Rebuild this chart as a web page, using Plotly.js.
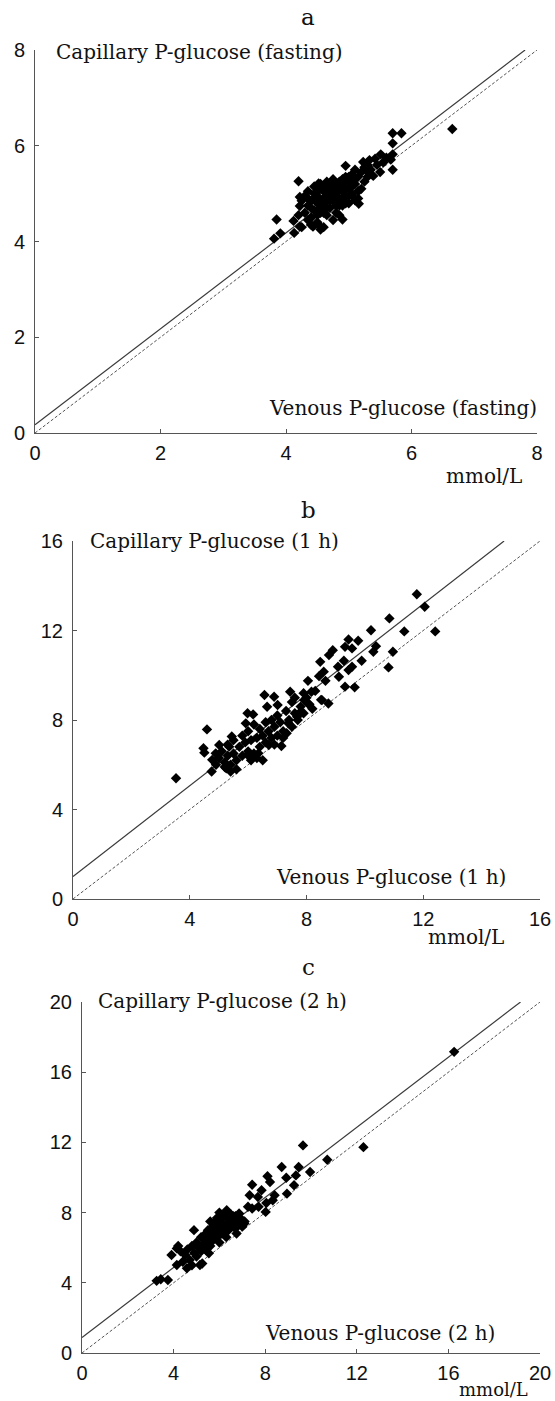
<!DOCTYPE html>
<html>
<head>
<meta charset="utf-8">
<script src="https://cdn.plot.ly/plotly-3.0.1.min.js"></script>
<style>
  html, body { margin: 0; padding: 0; background: #fff; }
  #chart { width: 555px; height: 1401px; }
</style>
</head>
<body>
<div id="chart"></div>
<script>
// ---------- Panel a (fasting) ----------
const aVenous = [6.65,5.70,5.84,5.70,5.70,5.67,5.70,5.51,5.42,5.33,5.39,4.95,4.20,3.85,3.81,3.91,4.90,4.54,4.43,4.12,4.13,4.22,4.22,4.22,4.52,5.10,5.16,5.05,5.23,
  4.25,4.30,4.30,4.35,4.35,4.40,4.40,4.45,4.45,4.45,4.50,4.50,4.50,4.55,4.55,4.55,4.60,4.60,4.60,4.65,4.65,4.65,4.65,4.70,4.70,4.70,4.75,4.75,4.75,4.80,4.80,4.80,4.85,4.85,4.90,4.90,4.90,4.95,4.95,5.00,5.00,5.05,5.05,5.10,5.10,5.15,5.20,5.20,5.25,5.30,5.30,5.35,4.40,4.60,4.55,4.75,4.85,4.35,4.20,4.25,5.00,5.15,5.45,5.55,5.60,5.50,
  4.45,4.50,4.55,4.60,4.65,4.70,4.70,4.75,4.75,4.80,4.80,4.85,4.85,4.90,4.95,4.95,5.00,5.00,5.05,5.10,4.55,4.60,4.50,4.40,4.35,4.65,4.90,5.15,5.25,5.30];
const aCapillary = [6.35,6.26,6.26,6.05,5.82,5.71,5.50,5.82,5.73,5.70,5.37,5.58,5.26,4.46,4.06,4.17,4.46,4.32,4.31,4.43,4.18,4.31,4.74,4.93,5.21,4.86,4.79,4.97,5.66,
  4.85,4.60,4.95,4.75,5.05,4.50,4.85,4.65,5.00,5.15,4.40,4.80,4.95,4.60,5.10,5.20,4.75,4.90,5.05,4.55,4.85,5.00,5.25,4.70,4.95,5.10,4.85,5.20,5.30,4.60,5.00,5.15,4.90,5.25,4.75,5.05,5.20,4.95,5.35,5.10,5.25,5.40,5.00,5.20,5.50,5.35,5.45,5.10,5.55,5.35,5.60,5.50,4.35,4.30,4.25,4.45,4.55,4.45,4.55,4.30,4.80,4.90,5.60,5.65,5.75,5.45,
  4.90,5.05,4.70,5.15,4.70,4.85,5.20,4.95,5.05,4.75,4.90,5.10,4.75,4.90,5.10,4.80,4.95,5.35,5.15,5.30,4.85,4.60,4.55,4.70,4.90,5.10,5.30,5.05,5.25,5.45];
const aFitX = [0, 7.81];
const aFitY = [0.17, 8.0];
const aIdentity = [0, 8];
const aTicks = [0, 2, 4, 6, 8];

// ---------- Panel b (1 h) ----------
const bVenous = [11.78,12.05,10.84,10.21,11.35,12.41,10.96,10.81,10.38,10.29,9.77,9.44,9.32,9.56,9.89,9.56,9.44,8.90,8.77,9.28,9.08,9.11,9.32,9.65,8.47,8.59,8.65,8.43,8.05,8.53,8.75,8.17,7.92,7.44,6.89,6.56,6.65,7.01,5.98,6.17,4.59,3.53,4.47,4.50,4.75,4.77,5.44,5.35,5.25,5.01,4.89,5.92,7.14,7.32,6.71,6.35,5.98,7.38,7.68,7.80,8.05,
  5.0,5.1,5.2,5.3,5.4,5.5,5.5,5.6,5.7,5.8,5.8,5.9,6.0,6.0,6.1,6.2,6.2,6.3,6.4,6.4,6.5,6.6,6.6,6.7,6.8,6.8,6.9,7.0,7.0,7.1,7.2,7.3,7.4,7.5,7.5,7.6,7.7,7.8,7.9,8.0,8.1,6.3,5.6,5.4,6.9,7.2,6.5,5.3,4.9,5.2,6.1,7.6,7.9,8.3,8.5,8.2];
const bCapillary = [13.62,13.06,12.54,12.01,11.96,11.96,11.05,10.35,11.30,11.05,11.54,11.60,11.27,11.20,10.65,10.38,10.23,11.12,10.90,10.65,10.38,9.93,9.49,9.46,10.60,10.16,9.75,9.96,9.75,8.89,8.74,9.26,8.89,9.26,9.04,9.12,8.59,8.67,8.30,8.25,7.58,5.40,6.74,6.54,5.70,6.22,7.26,6.81,5.84,6.88,6.51,7.85,6.84,7.41,6.88,6.51,6.44,7.85,8.15,8.37,8.74,
  6.3,6.6,6.1,6.9,6.0,6.5,7.1,6.2,6.8,7.3,6.4,7.0,6.6,7.5,7.1,6.5,7.8,7.2,6.8,7.6,7.3,7.9,7.0,7.5,8.0,7.2,7.7,7.3,8.2,7.9,7.5,8.4,8.0,8.8,7.7,8.3,8.0,8.6,8.3,9.0,8.7,6.3,5.8,5.7,6.9,7.2,6.2,6.4,6.0,5.9,6.2,9.0,9.2,9.3,8.9,8.5];
const bFitX = [0, 14.77];
const bFitY = [1.0, 16.0];
const bIdentity = [0, 16];
const bTicks = [0, 4, 8, 12, 16];

// ---------- Panel c (2 h) ----------
const cVenous = [16.25,9.65,12.29,10.71,9.96,9.46,8.72,8.92,9.34,9.26,8.95,8.10,8.21,7.43,7.84,7.32,7.68,8.05,8.41,8.33,8.02,7.25,7.43,7.71,3.26,3.44,3.75,3.91,4.14,4.14,4.58,5.15,4.89,5.54,6.75,7.09,6.86,6.32,
  4.5,4.6,4.7,4.8,4.9,5.0,5.0,5.1,5.2,5.2,5.3,5.4,5.4,5.5,5.5,5.6,5.6,5.7,5.7,5.8,5.8,5.9,5.9,6.0,6.0,6.1,6.1,6.2,6.2,6.3,6.3,6.4,6.4,6.5,6.5,6.6,6.7,6.7,6.8,6.9,7.0,7.1,5.3,4.4,4.3,4.2,6.0,5.6,6.3,4.8,5.25,
  5.8,6.0,6.2,5.9,6.4,6.1,5.7,6.6];
const cCapillary = [17.16,11.83,11.73,11.01,10.31,10.60,10.60,9.99,10.12,9.56,9.08,10.07,9.74,9.59,9.27,8.99,8.89,8.55,8.99,8.70,8.04,8.33,8.23,8.33,4.11,4.20,4.16,5.58,5.96,5.01,4.83,5.01,7.00,5.68,6.81,7.38,7.95,8.14,
  5.6,5.9,5.3,6.1,5.7,6.3,5.5,6.0,6.6,5.8,6.2,6.8,5.9,6.4,7.0,6.1,6.7,7.2,6.4,6.9,7.5,6.6,7.7,7.1,6.3,7.4,6.8,7.8,7.0,7.3,6.6,7.6,7.0,7.9,7.3,7.5,7.1,7.8,7.4,7.7,7.2,7.5,6.5,5.2,5.8,6.1,8.0,7.5,8.0,5.0,5.1,
  7.0,7.5,7.3,7.2,7.4,7.0,6.8,7.8];
const cFitX = [0, 19.15];
const cFitY = [0.88, 20.0];
const cIdentity = [0, 20];
const cTicks = [0, 4, 8, 12, 16, 20];

// ---------- texts ----------
const panelLetters = ['a', 'b', 'c'];
const capillaryLabels = ['Capillary P-glucose (fasting)', 'Capillary P-glucose (1 h)', 'Capillary P-glucose (2 h)'];
const venousLabels = ['Venous P-glucose (fasting)', 'Venous P-glucose (1 h)', 'Venous P-glucose (2 h)'];
const unitLabel = 'mmol/L';

// ---------- layout helpers ----------
const W = 555, H = 1401;
const px = v => v / W;
const py = v => 1 - v / H;

const serif = 'DejaVu Serif, Liberation Serif, serif';
const sans = 'Liberation Sans, Arial, sans-serif';

const markerStyle = { symbol: 'diamond', size: 8, color: '#000', line: { width: 0 } };
const fitStyle = { color: '#3a3a3a', width: 1.2 };
const idStyle = { color: '#555', width: 1, dash: '3px,2px' };

function panelTraces(vx, vy, fx, fy, id, xa, ya) {
  return [
    { x: id, y: id, mode: 'lines', line: idStyle, xaxis: xa, yaxis: ya, hoverinfo: 'skip' },
    { x: fx, y: fy, mode: 'lines', line: fitStyle, xaxis: xa, yaxis: ya, hoverinfo: 'skip' },
    { x: vx, y: vy, mode: 'markers', marker: markerStyle, xaxis: xa, yaxis: ya, cliponaxis: false }
  ];
}

const data = [
  ...panelTraces(aVenous, aCapillary, aFitX, aFitY, aIdentity, 'x', 'y'),
  ...panelTraces(bVenous, bCapillary, bFitX, bFitY, bIdentity, 'x2', 'y2'),
  ...panelTraces(cVenous, cCapillary, cFitX, cFitY, cIdentity, 'x3', 'y3')
];

function axis(domain, range, ticks, anchor, isY) {
  return {
    domain: domain, range: range, anchor: anchor,
    tickmode: 'array', tickvals: ticks, ticktext: ticks.map(String),
    showline: true, linecolor: '#555', linewidth: 1,
    ticks: 'inside', ticklen: 4, tickwidth: 1, tickcolor: '#555',
    showgrid: false, zeroline: false, fixedrange: true,
    tickfont: { family: sans, size: 20, color: '#111' },
    ticklabelstandoff: isY ? 5 : 2
  };
}

const layout = {
  width: W, height: H,
  margin: { l: 0, r: 0, t: 0, b: 0 },
  paper_bgcolor: '#fff', plot_bgcolor: '#fff',
  showlegend: false,
  xaxis:  axis([px(35), px(537)], [0, 8], aTicks, 'y', false),
  yaxis:  axis([py(433), py(50)], [0, 8], aTicks, 'x', true),
  xaxis2: axis([px(73), px(540)], [0, 16], bTicks, 'y2', false),
  yaxis2: axis([py(899), py(541)], [0, 16], bTicks, 'x2', true),
  xaxis3: axis([px(82), px(540)], [0, 20], cTicks, 'y3', false),
  yaxis3: axis([py(1353), py(1002)], [0, 20], cTicks, 'x3', true),
  annotations: []
};

function ann(text, x, y, xanchor, size) {
  return { text: text, xref: 'paper', yref: 'paper', x: px(x), y: py(y),
    xanchor: xanchor, yanchor: 'middle', showarrow: false, borderpad: 0,
    font: { family: serif, size: size, color: '#111' } };
}

const letterY = [17, 510, 967];
const capPos = [[55, 52], [89, 541], [97, 1001]];
const venPos = [[538, 408], [507, 877], [496, 1333]];
const unitPos = [[484, 476], [466, 937], [493.5, 1389]];
const unitSize = [20, 20, 18];

for (let i = 0; i < 3; i++) {
  layout.annotations.push(ann(panelLetters[i], 308, letterY[i], 'center', 23));
  layout.annotations.push(ann(capillaryLabels[i], capPos[i][0], capPos[i][1], 'left', 20));
  layout.annotations.push(ann(venousLabels[i], venPos[i][0], venPos[i][1], 'right', 20));
  layout.annotations.push(ann(unitLabel, unitPos[i][0], unitPos[i][1], 'center', unitSize[i]));
}

Plotly.newPlot('chart', data, layout, { staticPlot: true, displayModeBar: false });
</script>
</body>
</html>
